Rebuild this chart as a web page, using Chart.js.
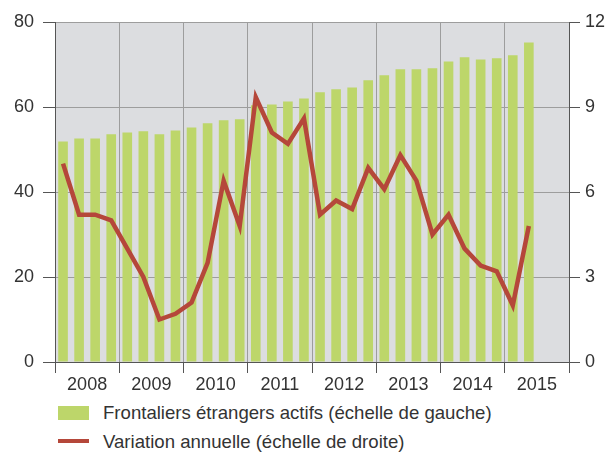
<!DOCTYPE html>
<html><head><meta charset="utf-8">
<script src="https://cdn.jsdelivr.net/npm/chart.js@4/dist/chart.umd.min.js"></script>
<style>
html,body{margin:0;padding:0;background:#fff;}
#wrap{position:relative;width:616px;height:453px;overflow:hidden;}
canvas{position:absolute;left:0;top:0;}
.lg{position:absolute;font-family:"Liberation Sans",Arial,sans-serif;font-size:18.6px;color:#333;white-space:nowrap;line-height:20px;}
.sw{position:absolute;}
</style></head><body>
<div id="wrap"><canvas id="c" width="616" height="400"></canvas>
<div class="sw" style="left:58px;top:406px;width:31px;height:14px;background:#bdd66a"></div>
<div class="lg" style="left:103px;top:403px">Frontaliers étrangers actifs (échelle de gauche)</div>
<div class="sw" style="left:58px;top:439px;width:31px;height:4px;background:#b5473a"></div>
<div class="lg" style="left:103px;top:432px">Variation annuelle (échelle de droite)</div>
</div>
<script>
const years = ['2008','2009','2010','2011','2012','2013','2014','2015'];
const quarters = [];
years.forEach(y => { for (let q = 1; q <= 4; q++) quarters.push(y + ' T' + q); });
const frontaliers = [51.9, 52.6, 52.6, 53.6, 54.0, 54.3, 53.6, 54.5, 55.2, 56.2, 56.9, 57.1,
  60.4, 60.6, 61.3, 62.0, 63.5, 64.2, 64.6, 66.3, 67.5, 68.9, 68.9, 69.1,
  70.7, 71.7, 71.2, 71.5, 72.2, 75.2];
const variation = [7.0, 5.2, 5.2, 5.0, 4.0, 3.0, 1.5, 1.7, 2.1, 3.5, 6.4, 4.8,
  9.35, 8.1, 7.7, 8.6, 5.2, 5.7, 5.4, 6.85, 6.1, 7.3, 6.4, 4.5,
  5.2, 4.0, 3.4, 3.2, 2.0, 4.8];
const leftTicks = [0, 20, 40, 60, 80];
const rightTicks = [0, 3, 6, 9, 12];

Chart.defaults.font.family = '"Liberation Sans", Arial, sans-serif';
Chart.defaults.font.size = 18;
Chart.defaults.color = '#333';

const bgPlugin = {
  id: 'bg',
  beforeDraw(chart) {
    const a = chart.chartArea, c = chart.ctx;
    c.save(); c.fillStyle = '#dcdde0';
    c.fillRect(a.left, a.top, a.right - a.left, a.bottom - a.top);
    c.restore();
  }
};

new Chart(document.getElementById('c'), {
  data: {
    labels: quarters,
    datasets: [
      { type: 'line', label: 'Variation annuelle (échelle de droite)', data: variation,
        yAxisID: 'y2', xAxisID: 'x', borderColor: '#b5473a', borderWidth: 4.5,
        pointRadius: 0, tension: 0, fill: false, order: 0 },
      { type: 'bar', label: 'Frontaliers étrangers actifs (échelle de gauche)', data: frontaliers,
        yAxisID: 'y', xAxisID: 'x', backgroundColor: '#bdd66a',
        barPercentage: 1, categoryPercentage: 0.6, order: 1 }
    ]
  },
  options: {
    responsive: false, animation: false,
    layout: { padding: { top: 22, left: 0, right: 0, bottom: 0 } },
    plugins: { legend: { display: false }, tooltip: { enabled: false } },
    scales: {
      x: { type: 'category', display: false, offset: true },
      x2: {
        type: 'linear', position: 'bottom', min: 0, max: 32,
        afterBuildTicks(s) { const t = []; for (let v = 0; v <= 32; v += 2) t.push({ value: v }); s.ticks = t; },
        afterFit(s) { s.height = 38; },
        ticks: { autoSkip: false, maxRotation: 0, padding: 1,
          callback: v => (v % 4 === 2 ? years[(v - 2) / 4] : '') },
        grid: {
          color: c => (c.tick && c.tick.value % 4 === 0) ? '#9d9d9d' : 'rgba(0,0,0,0)',
          tickColor: c => (c.tick && c.tick.value % 4 === 0) ? '#555' : 'rgba(0,0,0,0)',
          tickLength: 11, lineWidth: 1
        },
        border: { display: true, color: '#555', width: 1 }
      },
      y: {
        type: 'linear', position: 'left', min: 0, max: 80,
        afterBuildTicks(s) { s.ticks = leftTicks.map(v => ({ value: v })); },
        afterFit(s) { s.width = 55; },
        ticks: { padding: 9 },
        grid: { color: '#9d9d9d', tickColor: '#555', tickLength: 12 },
        border: { display: true, color: '#555', width: 1 }
      },
      y2: {
        type: 'linear', position: 'right', min: 0, max: 12,
        afterBuildTicks(s) { s.ticks = rightTicks.map(v => ({ value: v })); },
        afterFit(s) { s.width = 47; },
        ticks: { padding: 5 },
        grid: { drawOnChartArea: false, tickColor: '#555', tickLength: 11 },
        border: { display: true, color: '#555', width: 1 }
      }
    }
  },
  plugins: [bgPlugin]
});
</script>
</body></html>
